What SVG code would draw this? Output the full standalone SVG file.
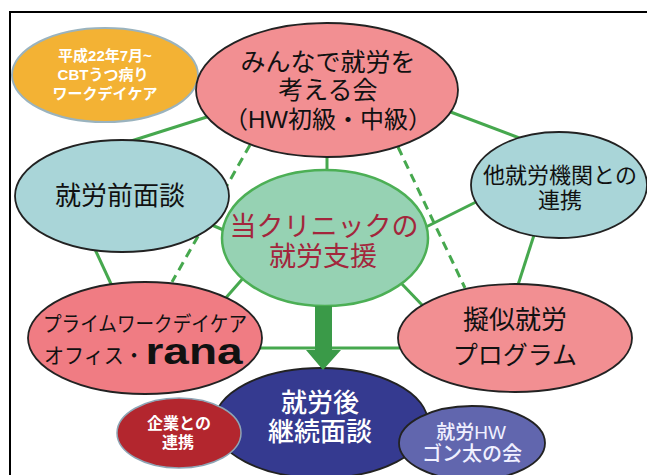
<svg xmlns="http://www.w3.org/2000/svg" width="647" height="475" viewBox="0 0 647 475">
<style>
text{font-family:"Liberation Sans","Noto Sans CJK JP",sans-serif;text-anchor:middle;dominant-baseline:central}
.ln{stroke:#46A84E;stroke-width:3;fill:none}
.dash{stroke:#46A84E;stroke-width:3;fill:none;stroke-dasharray:9 6}
.dk{stroke:#222;stroke-width:1.8}
.blk{fill:#111}
.wh{fill:#fff;font-weight:bold}
</style>
<rect x="0" y="0" width="647" height="475" fill="#fff"/>
<rect x="10" y="12" width="660" height="500" fill="none" stroke="#000" stroke-width="2"/>
<g id="connectors">
<line class="ln" x1="327" y1="150" x2="327" y2="175"/>
<line class="ln" x1="210" y1="116" x2="128" y2="142"/>
<line class="ln" x1="448" y1="111" x2="522" y2="139"/>
<line class="ln" x1="420" y1="230" x2="480" y2="200"/>
<line class="ln" x1="205" y1="222" x2="228" y2="232"/>
<line class="ln" x1="93" y1="245" x2="112" y2="286"/>
<line class="ln" x1="245" y1="276" x2="224" y2="300"/>
<line class="ln" x1="535" y1="232" x2="517" y2="288"/>
<line class="ln" x1="400" y1="282" x2="425" y2="308"/>
<line class="ln" x1="255" y1="348" x2="405" y2="348"/>
<line class="dash" x1="250" y1="145" x2="172" y2="282"/>
<line class="dash" x1="398" y1="147" x2="465" y2="288"/>
</g>
<g id="n-cbt">
<ellipse cx="105" cy="75" rx="93" ry="47" fill="#F3B234" stroke="#9AB3BE" stroke-width="2"/>
<text class="wh" font-size="15"><tspan x="105" y="55">平成22年7月~</tspan><tspan x="103" y="74">CBTうつ病り</tspan><tspan x="105" y="93">ワークデイケア</tspan></text>
</g>
<g id="n-minna">
<ellipse cx="327" cy="90" rx="131" ry="67" fill="#F28F92" class="dk"/>
<text class="blk" font-size="25"><tspan x="328" y="62">みんなで就労を</tspan><tspan x="328" y="90">考える会</tspan><tspan x="328" y="119" font-size="24">（HW初級・中級）</tspan></text>
</g>
<g id="n-mae">
<ellipse cx="122" cy="196" rx="107" ry="56" fill="#A9D5D8" class="dk"/>
<text class="blk" x="120" y="196" font-size="26">就労前面談</text>
</g>
<g id="n-ta">
<ellipse cx="559" cy="185" rx="88" ry="53" fill="#A9D5D8" class="dk"/>
<text class="blk" font-size="22"><tspan x="560" y="175">他就労機関との</tspan><tspan x="560" y="200">連携</tspan></text>
</g>
<g id="n-center">
<ellipse cx="325" cy="238" rx="103" ry="68" fill="#96D2B3" stroke="#4CAF55" stroke-width="2.5"/>
<text font-size="27" fill="#A3263C"><tspan x="324" y="227">当クリニックの</tspan><tspan x="323" y="257">就労支援</tspan></text>
</g>
<g id="n-rana">
<ellipse cx="145" cy="338" rx="117" ry="56" fill="#F07C83" class="dk"/>
<text class="blk" font-size="21"><tspan x="145" y="323" textLength="204" lengthAdjust="spacingAndGlyphs">プライムワークデイケア</tspan><tspan x="94" y="355" textLength="100" lengthAdjust="spacingAndGlyphs">オフィス・</tspan><tspan x="194" y="351" font-size="36" font-weight="bold" textLength="97" lengthAdjust="spacingAndGlyphs">rana</tspan></text>
</g>
<g id="n-giji">
<ellipse cx="515" cy="338" rx="117" ry="54" fill="#F28F92" class="dk"/>
<text class="blk" font-size="25"><tspan x="515" y="320" font-size="26">擬似就労</tspan><tspan x="515" y="355">プログラム</tspan></text>
</g>
<g id="n-go">
<ellipse cx="321" cy="423" rx="107" ry="55" fill="#353A90" class="dk"/>
<text x="320" font-size="26" fill="#fff" font-weight="500"><tspan x="320" y="403">就労後</tspan><tspan x="320" y="432">継続面談</tspan></text>
</g>
<g id="n-kigyo">
<ellipse cx="179" cy="433" rx="62" ry="35" fill="#B3262E" stroke="#8EA5B5" stroke-width="1.5"/>
<text class="wh" font-size="16"><tspan x="179" y="423">企業との</tspan><tspan x="178" y="442">連携</tspan></text>
</g>
<g id="n-gonta">
<ellipse cx="472" cy="443" rx="73" ry="37" fill="#6166AE" class="dk"/>
<text fill="#F0F0FF" font-weight="500"><tspan x="471" y="432" font-size="19">就労HW</tspan><tspan x="472" y="454" font-size="20">ゴン太の会</tspan></text>
</g>
<g id="arrow">
<polygon points="315,306 332,306 332,350 341,350 323,370 306,350 315,350" fill="#3A9A48"/>
</g>
</svg>
